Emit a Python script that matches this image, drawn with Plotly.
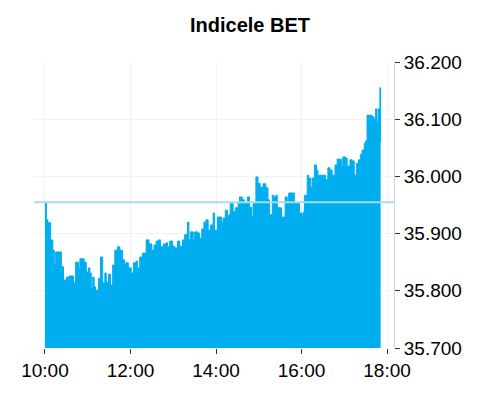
import plotly.graph_objects as go

# Time of day (HH:MM) and index value
times = [
    "10:00", "10:02", "10:04", "10:06", "10:08", "10:09", "10:11", "10:13", "10:15", "10:18",
    "10:21", "10:23", "10:26", "10:28", "10:30", "10:33", "10:34", "10:37", "10:40", "10:43",
    "10:46", "10:47", "10:49", "10:53", "10:55", "10:56", "10:58", "11:01", "11:03", "11:05",
    "11:07", "11:09", "11:11", "11:15", "11:18", "11:21", "11:24", "11:26", "11:29", "11:32",
    "11:35", "11:38", "11:42", "11:45", "11:49", "11:52", "11:54", "11:57", "12:01", "12:04",
    "12:08", "12:10", "12:13", "12:17", "12:20", "12:22", "12:26", "12:30", "12:33", "12:36",
    "12:39", "12:42", "12:46", "12:50", "12:52", "12:55", "12:59", "13:02", "13:06", "13:09",
    "13:13", "13:16", "13:20", "13:22", "13:24", "13:28", "13:30", "13:34", "13:37", "13:40",
    "13:43", "13:46", "13:49", "13:52", "13:56", "13:58", "14:02", "14:05", "14:08", "14:10",
    "14:13", "14:16", "14:18", "14:20", "14:24", "14:27", "14:31", "14:33", "14:37", "14:40",
    "14:44", "14:47", "14:50", "14:52", "14:56", "14:59", "15:02", "15:06", "15:10", "15:13",
    "15:15", "15:19", "15:21", "15:24", "15:26", "15:28", "15:32", "15:34", "15:37", "15:40",
    "15:42", "15:46", "15:48", "15:50", "15:54", "15:57", "16:01", "16:03", "16:04", "16:08",
    "16:10", "16:13", "16:15", "16:18", "16:21", "16:23", "16:26", "16:30", "16:34", "16:37",
    "16:40", "16:43", "16:47", "16:50", "16:54", "16:56", "16:58", "17:02", "17:04", "17:08",
    "17:11", "17:14", "17:17", "17:20", "17:23", "17:25", "17:28", "17:30", "17:32", "17:36",
    "17:39", "17:42", "17:44", "17:46", "17:48", "17:50", "17:51",
]
values = [
    35.954, 35.924, 35.919, 35.919, 35.889, 35.889, 35.871, 35.845, 35.868, 35.868,
    35.868, 35.842, 35.819, 35.819, 35.824, 35.807, 35.826, 35.826, 35.815, 35.850,
    35.850, 35.840, 35.856, 35.856, 35.850, 35.850, 35.833, 35.840, 35.831, 35.805,
    35.824, 35.807, 35.801, 35.822, 35.859, 35.814, 35.831, 35.815, 35.829, 35.810,
    35.845, 35.871, 35.877, 35.871, 35.854, 35.847, 35.849, 35.840, 35.831, 35.849,
    35.852, 35.840, 35.859, 35.866, 35.866, 35.889, 35.882, 35.871, 35.880, 35.887,
    35.889, 35.877, 35.882, 35.884, 35.877, 35.887, 35.878, 35.875, 35.887, 35.878,
    35.889, 35.898, 35.920, 35.889, 35.903, 35.889, 35.903, 35.901, 35.892, 35.908,
    35.920, 35.924, 35.906, 35.915, 35.936, 35.906, 35.929, 35.929, 35.920, 35.927,
    35.941, 35.931, 35.933, 35.953, 35.938, 35.945, 35.953, 35.964, 35.959, 35.953,
    35.964, 35.946, 35.929, 35.953, 35.999, 35.988, 35.981, 35.987, 35.980, 35.959,
    35.933, 35.967, 35.964, 35.967, 35.946, 35.945, 35.929, 35.929, 35.964, 35.953,
    35.971, 35.971, 35.971, 35.953, 35.953, 35.936, 35.933, 35.938, 35.967, 36.002,
    35.997, 35.981, 35.997, 36.020, 36.011, 36.002, 36.002, 36.002, 35.994, 36.015,
    36.011, 36.002, 36.020, 36.030, 36.030, 36.018, 36.034, 36.032, 36.018, 36.029,
    36.027, 36.002, 36.023, 36.029, 36.039, 36.046, 36.058, 36.062, 36.107, 36.107,
    36.104, 36.099, 36.118, 36.095, 36.118, 36.155, 36.060,
]
prev_close = 35.955
y_ticks = [35.7, 35.8, 35.9, 36.0, 36.1, 36.2]
x_ticks = ["10:00", "12:00", "14:00", "16:00", "18:00"]
x_range = ["09:44:36", "18:09:48"]
title_text = "Indicele BET"

day = "2024-01-15 "
xs = [day + t for t in times]

fill_color = "#00AEEF"
font_family = "Liberation Sans, Arial, sans-serif"

fig = go.Figure()
fig.add_trace(go.Scatter(
    x=xs, y=values, mode="lines", fill="tozeroy",
    line=dict(color=fill_color, width=1, shape="hv"), fillcolor=fill_color,
    hoverinfo="skip", showlegend=False,
))

fig.add_shape(type="line", xref="paper", x0=0, x1=1, yref="y",
              y0=prev_close, y1=prev_close,
              line=dict(color="#A6DDF5", width=2), layer="above")

W, H = 484, 392
fig.update_layout(
    width=W, height=H,
    margin=dict(l=26, r=98, t=54, b=52),
    paper_bgcolor="white", plot_bgcolor="white",
    font=dict(family=font_family, size=19, color="#000000"),
    title=dict(text="<b>" + title_text + "</b>", x=0.5, xanchor="center",
               y=1 - 17 / H, yref="container", yanchor="middle",
               font=dict(size=20, color="#000000")),
    showlegend=False,
)
fig.update_xaxes(
    type="date", range=[day + x_range[0], day + x_range[1]],
    tickvals=[day + t for t in x_ticks], ticktext=x_ticks,
    ticks="outside", ticklen=5, tickcolor="#333333", tickwidth=1,
    showgrid=True, gridcolor="#F2F2F2", gridwidth=1,
    showline=False, zeroline=False,
)
fig.update_yaxes(
    side="right", range=[35.7, 36.2],
    tickvals=y_ticks, tickformat=".3f",
    ticks="outside", ticklen=5, tickcolor="#333333", tickwidth=1,
    showgrid=True, gridcolor="#F2F2F2", gridwidth=1,
    showline=True, linecolor="#CCD6EB", linewidth=1, zeroline=False,
)

fig.write_html("out.html")
